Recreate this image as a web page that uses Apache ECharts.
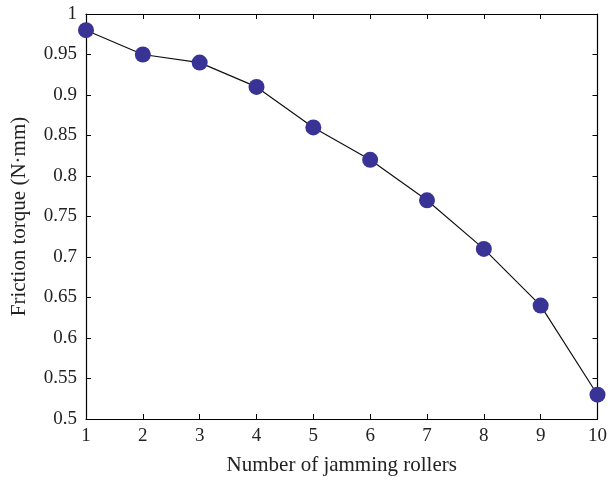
<!DOCTYPE html>
<html><head><meta charset="utf-8">
<script src="https://cdn.jsdelivr.net/npm/echarts@6/dist/echarts.min.js"></script>
<style>html,body{margin:0;padding:0;background:#fff}#c{width:610px;height:481px}</style>
</head><body><div id="c"></div>
<script>
const rollers = [1,2,3,4,5,6,7,8,9,10];
const torque = [0.98,0.95,0.94,0.91,0.86,0.82,0.77,0.71,0.64,0.53];
const xTitle = 'Number of jamming rollers';
const yTitle = 'Friction torque (N·mm)';
const font = 'Liberation Serif';
const chart = echarts.init(document.getElementById('c'));
const fmt = v => String(parseFloat(v.toFixed(2)));
const axLine = {show:true, lineStyle:{color:'#000', width:1.2}};
const tick = {show:true, inside:true, length:5, lineStyle:{color:'#000'}};
chart.setOption({
  animation:false,
  grid:{left:86, right:9, top:14, bottom:61, containLabel:false},
  xAxis:[{type:'value', min:1, max:10, interval:1, position:'bottom',
    axisLine:axLine, axisTick:tick, splitLine:{show:false},
    axisLabel:{color:'#222', fontFamily:font, fontSize:19, margin:8},
    name:xTitle, nameLocation:'middle', nameGap:36,
    nameTextStyle:{color:'#222', fontFamily:font, fontSize:21}},
   {type:'value', min:1, max:10, interval:1, position:'top',
    axisLine:axLine, axisTick:tick, axisLabel:{show:false}, splitLine:{show:false}}],
  yAxis:[{type:'value', min:0.5, max:1, interval:0.05, position:'left',
    axisLine:axLine, axisTick:tick, splitLine:{show:false},
    axisLabel:{color:'#222', fontFamily:font, fontSize:19, margin:9, formatter:fmt},
    name:yTitle, nameLocation:'middle', nameGap:56,
    nameTextStyle:{color:'#222', fontFamily:font, fontSize:21}},
   {type:'value', min:0.5, max:1, interval:0.05, position:'right',
    axisLine:axLine, axisTick:tick, axisLabel:{show:false}, splitLine:{show:false}}],
  series:[{type:'line', data:rollers.map((x,i)=>[x,torque[i]]),
    symbol:'circle', symbolSize:16,
    lineStyle:{color:'#111', width:1.2},
    itemStyle:{color:'#3a3396', borderWidth:0}}]
});
</script></body></html>
